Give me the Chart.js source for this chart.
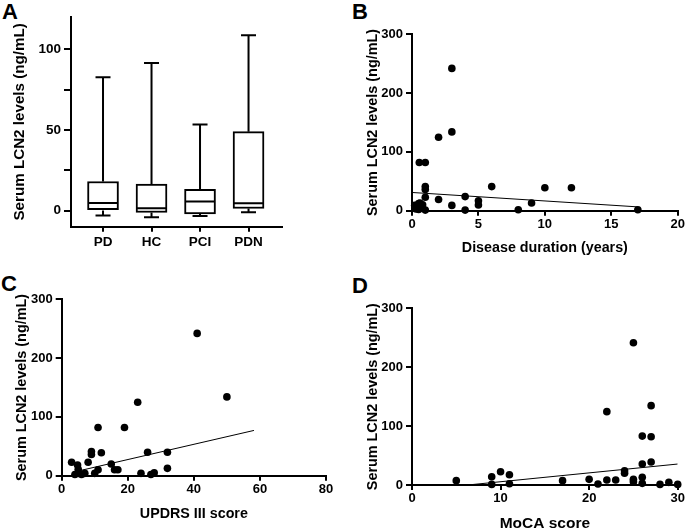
<!DOCTYPE html>
<html>
<head>
<meta charset="utf-8">
<script src="https://cdn.jsdelivr.net/npm/chart.js@4/dist/chart.umd.min.js"></script>
<style>
  html, body { margin: 0; padding: 0; background: #fff; overflow: hidden; }
  #fig { position: relative; width: 685px; height: 530px; overflow: hidden; }
  #fig canvas { position: absolute; }
  .tag { position: absolute; font: bold 22px 'Liberation Sans', Arial, sans-serif; line-height: 1; color: #000; }
</style>
</head>
<body>
<div id="fig">
  <div class="tag" style="left:2px;top:1px">A</div>
  <div class="tag" style="left:352px;top:1px">B</div>
  <div class="tag" style="left:1px;top:273px">C</div>
  <div class="tag" style="left:352px;top:275px">D</div>
  <canvas id="boxChart"></canvas>
  <canvas id="durationChart"></canvas>
  <canvas id="updrsChart"></canvas>
  <canvas id="mocaChart"></canvas>
</div>
<script>
// ---- A: box plot per group (ng/mL) ----
const groups = ['PD', 'HC', 'PCI', 'PDN'];
const boxMin = [-3, -4.2, -3.4, -1];
const boxQ1 = [0, -1.2, -2.1, 1.3];
const boxMedian = [4.7, 1.5, 5.6, 4.5];
const boxQ3 = [18, 16.4, 13.2, 48.9];
const boxMax = [82.6, 91.5, 53.4, 108.7];
const boxTicks = [0, 25, 50, 75, 100];
const boxTickLabels = [0, 50, 100];

// ---- B: disease duration vs LCN2 ----
const durationX = [0.2, 0.3, 0.4, 0.5, 0.6, 0.7, 0.5, 0.8, 0.55, 1, 1, 1, 1, 1, 2, 2, 3, 3, 3, 4, 4, 5, 5, 6, 8, 9, 10, 12, 17];
const durationY = [9, 3, 8, 12, 13, 5, 2, 10, 82, 82, 41, 36, 23, 1, 19, 125, 242, 134, 9, 24, 1, 17, 9.6, 41, 1.5, 13, 39, 39, 1.5];
const durationFitX = [0, 17];
const durationFitY = [31, 6.5];
const durationTicks = [0, 5, 10, 15, 20];

// ---- C: UPDRS III vs LCN2 ----
const updrsX = [3, 4, 4.8, 5, 5, 6, 7, 8, 9, 9, 10, 11, 11, 12, 15, 16, 17, 19, 23, 24, 26, 27, 28, 32, 32, 41, 50];
const updrsY = [23, 2, 18, 11, 4, 2, 4, 23, 41, 36, 4, 10, 82, 39, 20, 10, 10, 82, 125, 4, 40, 2, 5, 40, 12.5, 242, 134];
const updrsFitX = [5, 58.2];
const updrsFitY = [8, 77];
const updrsTicks = [0, 20, 40, 60, 80];

// ---- D: MoCA vs LCN2 ----
const mocaX = [5, 9, 9, 10, 11, 11, 17, 20, 21, 22, 22, 23, 24, 24, 25, 25, 25, 26, 26, 26, 26, 27, 27, 27, 28, 29, 30];
const mocaY = [7.4, 14, 1, 22.6, 17.5, 2, 7.4, 9.6, 1.7, 124.5, 8.5, 8.5, 24, 20, 241.6, 9.6, 5.7, 83, 35.6, 13, 2.8, 134.7, 82, 39, 1, 4.5, 1];
const mocaFitX = [6.3, 30];
const mocaFitY = [0, 35.6];
const mocaTicks = [0, 10, 20, 30];

const lcnTicks = [0, 100, 200, 300];
const yTitle = 'Serum LCN2 levels (ng/mL)';
const FONT = "'Liberation Sans', Arial, sans-serif";
const charts = {};

Chart.defaults.font.family = FONT;
Chart.defaults.font.weight = 'bold';
Chart.defaults.color = '#000';
Chart.defaults.animation = false;
Chart.defaults.plugins.legend.display = false;
Chart.defaults.plugins.tooltip.enabled = false;

const font = (size) => ({ family: FONT, size: size, weight: 'bold', lineHeight: 1.2 });

// place canvas so the plot area lands where it sits in the figure
function frame(id, box, area, xTitleY, xTitleSize) {
  const cv = document.getElementById(id);
  cv.width = box.w; cv.height = box.h;
  cv.style.left = box.x + 'px'; cv.style.top = box.y + 'px';
  let bottomEdge = box.y + box.h;
  if (xTitleY) bottomEdge = xTitleY + xTitleSize * 0.6;
  return {
    cv: cv,
    padding: { left: 0, top: area.t - box.y, right: box.x + box.w - area.r, bottom: box.y + box.h - bottomEdge },
    yW: area.l - box.x,
    xH: bottomEdge - area.b
  };
}

function axisCommon(ticks, fontSize, tickLen, pad) {
  return {
    offset: false,
    border: { display: true, color: '#000', width: 2 },
    grid: { drawOnChartArea: false, drawTicks: true, tickLength: tickLen, color: '#000', lineWidth: 2, offset: false },
    ticks: { font: font(fontSize), color: '#000', padding: pad, maxRotation: 0, autoSkip: false },
    afterBuildTicks: s => { s.ticks = ticks.map(v => ({ value: v })); }
  };
}

// whiskers, caps and median line for the box plot
const boxWhiskers = {
  id: 'boxWhiskers',
  afterDatasetsDraw(chart) {
    const { ctx, scales: { x, y } } = chart;
    ctx.save();
    ctx.strokeStyle = '#000';
    ctx.lineWidth = 2;
    groups.forEach((g, i) => {
      const cx = x.getPixelForValue(i);
      const yMin = y.getPixelForValue(boxMin[i]), yMax = y.getPixelForValue(boxMax[i]);
      const yQ1 = y.getPixelForValue(boxQ1[i]), yQ3 = y.getPixelForValue(boxQ3[i]);
      const yMed = y.getPixelForValue(boxMedian[i]);
      ctx.beginPath();
      ctx.moveTo(cx, yQ3); ctx.lineTo(cx, yMax);
      ctx.moveTo(cx, yQ1); ctx.lineTo(cx, yMin);
      ctx.moveTo(cx - 7.5, yMax); ctx.lineTo(cx + 7.5, yMax);
      ctx.moveTo(cx - 7.5, yMin); ctx.lineTo(cx + 7.5, yMin);
      ctx.moveTo(cx - 15, yMed); ctx.lineTo(cx + 15, yMed);
      ctx.stroke();
    });
    ctx.restore();
  }
};

// A
(function () {
  const f = frame('boxChart', { x: 11, y: 0, w: 289, h: 262 }, { l: 71, t: 17, r: 282, b: 226.7 });
  const xAx = axisCommon(groups.map((g, i) => i), 13.5, 5, 2);
  xAx.type = 'linear'; xAx.min = -0.66; xAx.max = 3.69;
  xAx.ticks.callback = v => groups[v];
  xAx.afterFit = s => { s.height = f.xH; };
  const yAx = axisCommon(boxTicks, 13.5, 7, 3);
  yAx.min = -10; yAx.max = 120;
  yAx.ticks.callback = v => boxTickLabels.includes(v) ? v : '';
  yAx.title = { display: true, text: yTitle, font: font(15.2), color: '#000', padding: 0 };
  yAx.afterFit = s => { s.width = f.yW; };
  charts.box = new Chart(f.cv, {
    type: 'bar',
    data: {
      datasets: [{
        data: groups.map((g, i) => ({ x: i, y: [boxQ1[i], boxQ3[i]] })),
        backgroundColor: '#fff', borderColor: '#000', borderWidth: 2, borderSkipped: false,
        barThickness: 31
      }]
    },
    options: { responsive: false, layout: { padding: f.padding }, scales: { x: xAx, y: yAx } },
    plugins: [boxWhiskers]
  });
})();

function scatterPanel(id, box, area, xs, ys, fitX, fitY, xTicks, xTitle, xTitleY, xTitleSize, yTitleSize) {
  const f = frame(id, box, area, xTitleY, xTitleSize);
  const xAx = axisCommon(xTicks, 13, 5, 1);
  xAx.type = 'linear'; xAx.min = xTicks[0]; xAx.max = xTicks[xTicks.length - 1];
  xAx.title = { display: true, text: xTitle, font: font(xTitleSize), color: '#000', padding: 0 };
  xAx.afterFit = s => { s.height = f.xH; };
  const yAx = axisCommon(lcnTicks, 13, 6, 3);
  yAx.min = 0; yAx.max = 300;
  yAx.title = { display: true, text: yTitle, font: font(yTitleSize), color: '#000', padding: 0 };
  yAx.afterFit = s => { s.width = f.yW; };
  return new Chart(f.cv, {
    type: 'scatter',
    data: {
      datasets: [
        {
          data: xs.map((x, i) => ({ x: x, y: ys[i] })),
          backgroundColor: '#000', borderWidth: 0, pointRadius: 3.8, clip: false
        },
        {
          type: 'line',
          data: fitX.map((x, i) => ({ x: x, y: fitY[i] })),
          borderColor: '#000', borderWidth: 1, pointRadius: 0, fill: false
        }
      ]
    },
    options: { responsive: false, layout: { padding: f.padding }, scales: { x: xAx, y: yAx } }
  });
}

charts.duration = scatterPanel('durationChart', { x: 364, y: 0, w: 336, h: 262 }, { l: 412, t: 34.3, r: 677.7, b: 210.7 },
  durationX, durationY, durationFitX, durationFitY, durationTicks, 'Disease duration (years)', 248.3, 14.3, 14.4);
charts.updrs = scatterPanel('updrsChart', { x: 13, y: 265, w: 327, h: 265 }, { l: 61.7, t: 299.3, r: 326, b: 475.7 },
  updrsX, updrsY, updrsFitX, updrsFitY, updrsTicks, 'UPDRS III score', 514.3, 14.3, 14.4);
charts.moca = scatterPanel('mocaChart', { x: 364, y: 265, w: 336, h: 280 }, { l: 412, t: 308.3, r: 677.7, b: 485 },
  mocaX, mocaY, mocaFitX, mocaFitY, mocaTicks, 'MoCA score', 524, 15.5, 14.4);
</script>
</body>
</html>
